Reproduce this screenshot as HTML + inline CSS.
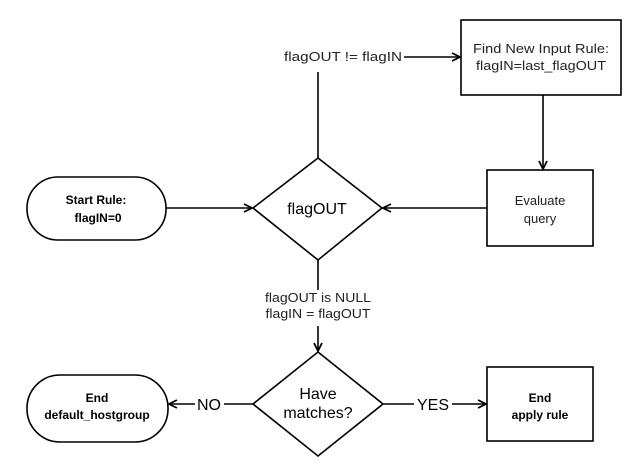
<!DOCTYPE html>
<html><head><style>body{margin:0;background:#fff}svg{display:block}</style></head><body>
<svg width="637" height="468" viewBox="0 0 637 468" xmlns="http://www.w3.org/2000/svg" font-family="Liberation Sans, sans-serif">
<defs><marker id="a" markerWidth="10" markerHeight="10" refX="9" refY="5" orient="auto" markerUnits="userSpaceOnUse"><path d="M1,1 L9,5 L1,9" fill="none" stroke="#000" stroke-width="1.8"/></marker></defs>
<g stroke="#000" stroke-width="1.6" fill="#fff">
<rect x="27" y="177" width="139" height="63" rx="31"/>
<rect x="461" y="20" width="160" height="75"/>
<rect x="487" y="170" width="106" height="76"/>
<path d="M318,158 L382,208 L318,260 L253,208 Z"/>
<rect x="27" y="375" width="141" height="67" rx="33"/>
<path d="M318,352 L383,404 L318,456 L253,404 Z"/>
<rect x="487" y="367" width="106" height="74"/>
</g>
<g stroke="#000" stroke-width="1.6" fill="none">
<path d="M318,158 V72"/>
<path d="M404,57 H460" marker-end="url(#a)"/>
<path d="M543,95 V169" marker-end="url(#a)"/>
<path d="M166,208 H252" marker-end="url(#a)"/>
<path d="M487,208 H383" marker-end="url(#a)"/>
<path d="M318,260 V290"/>
<path d="M318,326 V351" marker-end="url(#a)"/>
<path d="M253,404 H224"/>
<path d="M195,404 H169" marker-end="url(#a)"/>
<path d="M383,404 H414"/>
<path d="M452,404 H486" marker-end="url(#a)"/>
</g>
<g font-size="13" fill="#222" text-anchor="middle">
<text x="343" y="61" textLength="118" lengthAdjust="spacingAndGlyphs">flagOUT != flagIN</text>
<text x="541" y="53" textLength="136" lengthAdjust="spacingAndGlyphs">Find New Input Rule:</text>
<text x="541" y="70" textLength="130" lengthAdjust="spacingAndGlyphs">flagIN=last_flagOUT</text>
<text x="540" y="205">Evaluate</text>
<text x="540" y="223">query</text>
<text x="318" y="302" textLength="106" lengthAdjust="spacingAndGlyphs">flagOUT is NULL</text>
<text x="318" y="318" textLength="105" lengthAdjust="spacingAndGlyphs">flagIN = flagOUT</text>
</g>
<g font-size="12" font-weight="bold" fill="#000" text-anchor="middle">
<text x="96" y="204">Start Rule:</text>
<text x="98" y="222">flagIN=0</text>
<text x="97" y="402">End</text>
<text x="97" y="419">default_hostgroup</text>
<text x="540" y="402">End</text>
<text x="540" y="419">apply rule</text>
</g>
<g font-size="16" fill="#000" text-anchor="middle">
<text x="317" y="214">flagOUT</text>
<text x="318" y="399">Have</text>
<text x="318" y="418">matches?</text>
<text x="209" y="410" font-size="16">NO</text>
<text x="433" y="410" font-size="16">YES</text>
</g>
</svg>
</body></html>
